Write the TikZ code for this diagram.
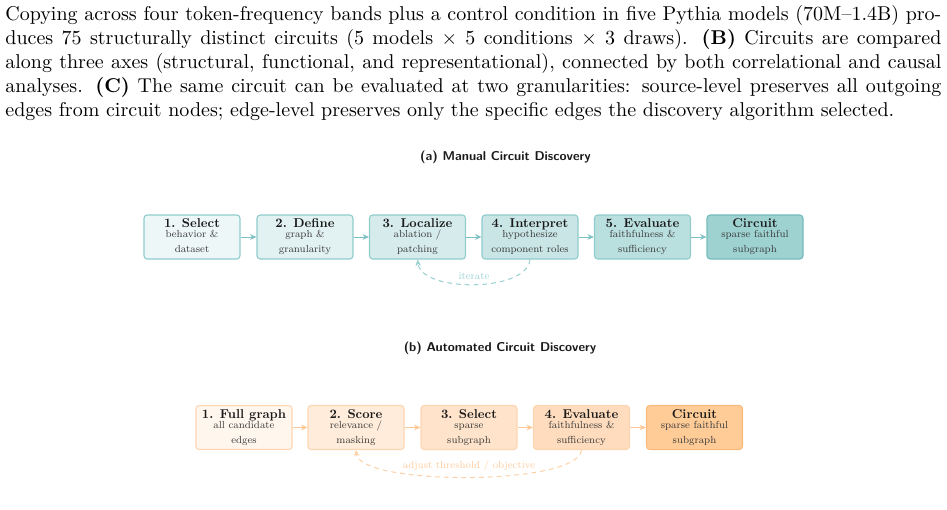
\documentclass[tikz,border=0pt]{standalone}
\usetikzlibrary{arrows.meta}
\definecolor{tarrow}{HTML}{7CC2C2}
\definecolor{tloopc}{HTML}{98CFCF}
\definecolor{tborder}{HTML}{90CCCC}
\definecolor{tborderD}{HTML}{74BBBB}
\definecolor{tA}{HTML}{EEF7F7}
\definecolor{tB}{HTML}{E2F1F1}
\definecolor{tC}{HTML}{D6ECEC}
\definecolor{tD}{HTML}{C9E5E5}
\definecolor{tE}{HTML}{BADFDF}
\definecolor{tF}{HTML}{9ED2D1}
\definecolor{tlabel}{HTML}{9CD2D2}
\definecolor{oarrow}{HTML}{FDC893}
\definecolor{oloopc}{HTML}{FDD0A6}
\definecolor{oborder}{HTML}{FDD6B1}
\definecolor{oborderD}{HTML}{F9BA7C}
\definecolor{oA}{HTML}{FFF6EE}
\definecolor{oB}{HTML}{FFECDA}
\definecolor{oC}{HTML}{FFE4CB}
\definecolor{oD}{HTML}{FEDCBD}
\definecolor{oF}{HTML}{FFCC98}
\definecolor{olabel}{HTML}{FCCC9E}
\definecolor{titleblk}{HTML}{1A1A1A}
\definecolor{subgray}{HTML}{3A3A3A}
\newcommand{\boxtext}[3]{\scalebox{0.64}{\begin{tabular}{@{}c@{}}{\normalsize\bfseries\color{titleblk}#1}\\[-4.2pt]{\footnotesize\color{subgray}#2}\\[-0.3pt]{\footnotesize\color{subgray}#3}\end{tabular}}}
\newcommand{\smalltext}[1]{\scalebox{0.64}{\footnotesize #1}}
\newcommand{\paneltext}[1]{\scalebox{0.64}{\normalsize\sffamily\bfseries #1}}
\tikzset{
  stagebox/.style={rectangle, rounded corners=1.6pt, minimum width=48pt, minimum height=22pt,
    inner sep=0pt, line width=0.55pt},
  tbox/.style={stagebox, draw=tborder},
  obox/.style={stagebox, draw=oborder},
  tflow/.style={draw=tarrow, line width=0.5pt, -{Stealth[length=3.2pt,width=2.8pt]}},
  oflow/.style={draw=oarrow, line width=0.5pt, -{Stealth[length=3.2pt,width=2.8pt]}},
  tloop/.style={draw=tloopc, line width=0.5pt, dash pattern=on 2.4pt off 2pt, -{Stealth[length=3.2pt,width=2.8pt]}},
  oloop/.style={draw=oloopc, line width=0.5pt, dash pattern=on 2.4pt off 2pt, -{Stealth[length=3.2pt,width=2.8pt]}},
  capline/.style={anchor=base west, inner sep=0pt, font=\fontsize{10}{12}\selectfont},
  paneltitle/.style={inner sep=0pt, text=titleblk},
  looplabel/.style={inner sep=0pt}
}
\begin{document}
\begin{tikzpicture}[x=0.5pt,y=-0.5pt]
\useasboundingbox (0,0) rectangle (947,509);
% caption text
\node[capline] (cap1) at (5,20) {\makebox[468pt][s]{Copying across four token-frequency bands plus a control condition in five Pythia models (70M--1.4B) pro-}};
\node[capline] (cap2) at (5,44) {\makebox[468pt][s]{duces 75 structurally distinct circuits (5 models $\times$ 5 conditions $\times$ 3 draws). \textbf{(B)} Circuits are compared}};
\node[capline] (cap3) at (5,68) {\makebox[468pt][s]{along three axes (structural, functional, and representational), connected by both correlational and causal}};
\node[capline] (cap4) at (5,92) {\makebox[468pt][s]{analyses. \textbf{(C)} The same circuit can be evaluated at two granularities: source-level preserves all outgoing}};
\node[capline] (cap5) at (5,116) {edges from circuit nodes; edge-level preserves only the specific edges the discovery algorithm selected.};
% panel (a)
\node[paneltitle] (ta) at (505.5,157) {\paneltext{(a) Manual Circuit Discovery}};
\node[tbox, fill=tA] (a1) at (192,237) {\boxtext{1. Select}{behavior \&}{dataset}};
\node[tbox, fill=tB] (a2) at (305,237) {\boxtext{2. Define}{graph \&}{granularity}};
\node[tbox, fill=tC] (a3) at (417.5,237) {\boxtext{3. Localize}{ablation /}{patching}};
\node[tbox, fill=tD] (a4) at (530,237) {\boxtext{4. Interpret}{hypothesize}{component roles}};
\node[tbox, fill=tE] (a5) at (642.5,237) {\boxtext{5. Evaluate}{faithfulness \&}{sufficiency}};
\node[stagebox, draw=tborderD, fill=tF] (a6) at (755,237) {\boxtext{Circuit}{sparse faithful}{subgraph}};
\draw[tflow] (a1) -- (a2);
\draw[tflow] (a2) -- (a3);
\draw[tflow] (a3) -- (a4);
\draw[tflow] (a4) -- (a5);
\draw[tflow] (a5) -- (a6);
\draw[tloop] (a4.south) .. controls +(-3,33) and +(4,33) .. (a3.south);
\node[looplabel, text=tlabel] (la) at (474,276) {\smalltext{iterate}};
% panel (b)
\node[paneltitle] (tb) at (500,348) {\paneltext{(b) Automated Circuit Discovery}};
\node[obox, fill=oA] (b1) at (244,427.5) {\boxtext{1. Full graph}{all candidate}{edges}};
\node[obox, fill=oB] (b2) at (356,427.5) {\boxtext{2. Score}{relevance /}{masking}};
\node[obox, fill=oC] (b3) at (469,427.5) {\boxtext{3. Select}{sparse}{subgraph}};
\node[obox, fill=oD] (b4) at (581.5,427.5) {\boxtext{4. Evaluate}{faithfulness \&}{sufficiency}};
\node[stagebox, draw=oborderD, fill=oF] (b5) at (694.5,427.5) {\boxtext{Circuit}{sparse faithful}{subgraph}};
\draw[oflow] (b1) -- (b2);
\draw[oflow] (b2) -- (b3);
\draw[oflow] (b3) -- (b4);
\draw[oflow] (b4) -- (b5);
\draw[oloop] (b4.south) .. controls +(-3,36) and +(4,36) .. (b2.south);
\node[looplabel, text=olabel] (lb) at (469,466) {\smalltext{adjust threshold / objective}};
\end{tikzpicture}
\end{document}
